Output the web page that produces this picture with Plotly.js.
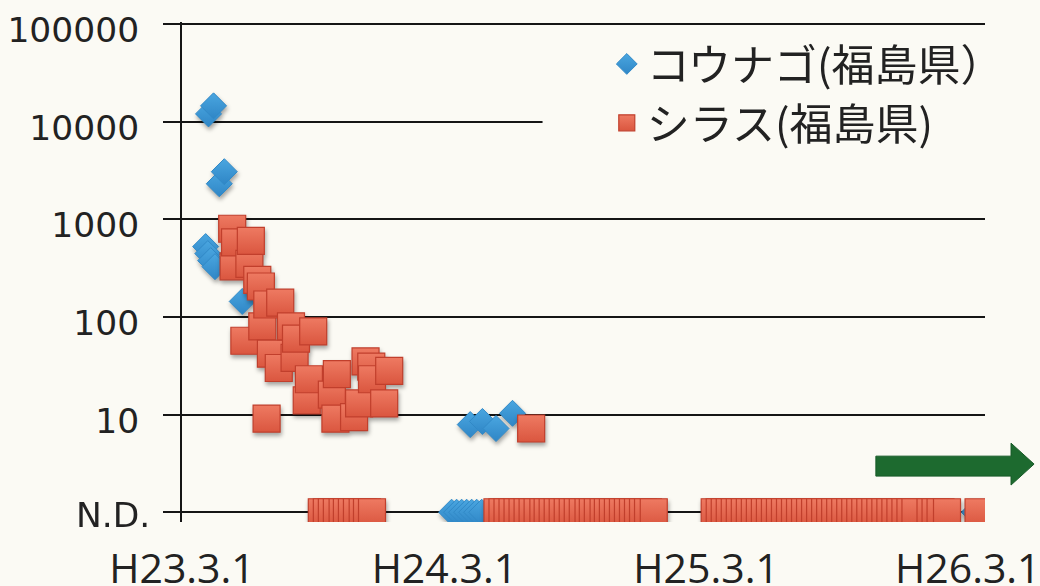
<!DOCTYPE html>
<html>
<head>
<meta charset="utf-8">
<script src="https://cdn.plot.ly/plotly-3.0.1.min.js"></script>
<style>
  html, body { margin: 0; padding: 0; background: #fbfaf4; }
  #chart { width: 1040px; height: 586px; }
</style>
</head>
<body>
<div id="chart"></div>
<script>
// Radiocaesium in fish caught off Fukushima (Bq/kg), log scale; N.D. drawn at 1.
const ND_LEVEL = 1;

// コウナゴ (sand lance) – detected results
const kounagoDates = [
  '2011-04-03', '2011-04-06', '2011-04-07', '2011-04-10', '2011-04-14',
  '2011-04-16', '2011-04-22', '2011-04-29', '2011-05-24',
  '2012-04-06', '2012-04-23', '2012-05-12', '2012-06-04'
];
const kounagoValues = [
  525, 445, 12000, 377, 14500,
  327, 2310, 3070, 144,
  7.9, 8.5, 7.2, 10.3
];
// コウナゴ – not detected
const kounagoNdDates = [
  '2012-03-11', '2012-03-18', '2012-03-25', '2012-04-01', '2012-04-08',
  '2012-04-15', '2012-04-22',
  '2013-03-20', '2013-04-10', '2013-05-08',
  '2014-03-10'
];

// シラス (whitebait) – detected results
const shirasuDates = [
  '2011-05-10', '2011-05-12', '2011-05-14', '2011-05-27', '2011-06-03',
  '2011-06-05', '2011-06-14', '2011-06-19', '2011-06-21', '2011-06-27',
  '2011-06-28', '2011-07-03', '2011-07-14', '2011-07-16', '2011-07-31',
  '2011-08-05', '2011-08-07', '2011-08-22', '2011-08-25', '2011-08-31',
  '2011-09-26', '2011-10-01', '2011-10-03', '2011-10-27', '2011-11-03',
  '2011-11-12', '2011-11-20', '2011-11-21', '2011-12-08', '2011-12-15',
  '2012-06-30'
];
const shirasuValues = [
  800, 330, 580, 57, 350,
  600, 240, 205, 80, 9.1,
  134, 42, 30, 140, 80,
  38, 60, 14, 23, 71,
  16, 9.1, 26, 9.4, 13,
  35, 31, 23, 13, 28,
  7.2
];
// シラス – not detected
const shirasuNdDates = [
  '2011-09-12', '2011-09-19', '2011-09-26', '2011-10-03', '2011-10-11',
  '2011-10-17', '2011-10-24', '2011-10-31', '2011-11-08', '2011-11-14',
  '2011-11-21',
  '2012-05-14', '2012-05-21', '2012-05-28', '2012-06-04', '2012-06-11',
  '2012-06-18', '2012-06-25', '2012-07-02', '2012-07-09', '2012-07-17',
  '2012-07-23', '2012-07-30', '2012-08-06', '2012-08-13', '2012-08-20',
  '2012-08-27', '2012-09-03', '2012-09-10', '2012-09-18', '2012-09-24',
  '2012-10-01', '2012-10-09', '2012-10-15', '2012-10-22', '2012-10-29',
  '2012-11-05', '2012-11-12', '2012-11-19', '2012-11-26', '2012-12-03',
  '2012-12-10', '2012-12-18',
  '2013-03-13', '2013-03-20', '2013-03-27', '2013-04-03', '2013-04-10',
  '2013-04-17', '2013-04-24', '2013-05-01', '2013-05-08', '2013-05-15',
  '2013-05-22', '2013-05-29', '2013-06-05', '2013-06-12', '2013-06-19',
  '2013-06-26', '2013-07-03', '2013-07-10', '2013-07-17', '2013-07-24',
  '2013-07-31', '2013-08-07', '2013-08-14', '2013-08-21', '2013-08-28',
  '2013-09-04', '2013-09-11', '2013-09-18', '2013-09-25', '2013-10-02',
  '2013-10-09', '2013-10-16', '2013-10-23', '2013-10-30', '2013-11-06',
  '2013-11-13', '2013-11-20', '2013-11-27', '2013-12-04', '2013-12-11',
  '2013-12-18', '2014-01-08', '2014-01-15', '2014-01-22', '2014-01-31',
  '2014-03-16'
];

const xTickVals = ['2011-03-01', '2012-03-01', '2013-03-01', '2014-03-01'];
const xTickText = ['H23.3.1', 'H24.3.1', 'H25.3.1', 'H26.3.1'];
const yTickVals = [1, 10, 100, 1000, 10000, 100000];
// the N.D. row is labelled separately (it sits a little further right)
const yTickText = ['', '10', '100', '1000', '10000', '100000'];
const ndLabel = 'N.D.';

const seriesNames = ['コウナゴ(福島県）', 'シラス(福島県)'];

const BG = '#fbfaf4';
const INK = '#151515';
const LABEL_FONT = { family: '"DejaVu Sans", sans-serif', size: 34.5, color: '#222' };

const kounago = {
  type: 'scatter', mode: 'markers', name: seriesNames[0],
  legendgroup: 'k',
  x: kounagoDates.concat(kounagoNdDates),
  y: kounagoValues.concat(kounagoNdDates.map(() => ND_LEVEL)),
  marker: {
    symbol: 'diamond', size: 20, color: '#4aa6e0',
    gradient: { type: 'vertical', color: '#2f86c6' },
    line: { color: '#3189c7', width: 1 }
  },
  hoverinfo: 'x+y'
};

const shirasu = {
  type: 'scatter', mode: 'markers', name: seriesNames[1],
  legendgroup: 's',
  x: shirasuDates.concat(shirasuNdDates),
  y: shirasuValues.concat(shirasuNdDates.map(() => ND_LEVEL)),
  marker: {
    symbol: 'square', size: 27, color: '#ee7a62',
    gradient: { type: 'vertical', color: '#da563f' },
    line: { color: '#c13f2c', width: 1.2 }
  },
  hoverinfo: 'x+y'
};

const layout = {
  width: 1040, height: 586,
  margin: { l: 182, r: 55, t: 22, b: 64 },
  paper_bgcolor: BG, plot_bgcolor: BG,
  font: { family: '"Open Sans", "Noto Sans CJK JP", sans-serif', color: '#222' },
  showlegend: true,
  legend: {
    x: 0.529, y: 0.985, xanchor: 'left', yanchor: 'top',
    bgcolor: 'rgba(0,0,0,0)', borderwidth: 0,
    traceorder: 'grouped', tracegroupgap: 0,
    font: { family: '"Noto Sans CJK JP", sans-serif', size: 43, color: '#222' }
  },
  xaxis: {
    type: 'date',
    range: ['2011-03-01', '2014-03-25'],
    tickmode: 'array', tickvals: xTickVals, ticktext: xTickText,
    showgrid: false, zeroline: false, showline: false,
    ticks: '', ticklabelstandoff: 19, ticklabeloverflow: 'allow',
    tickfont: { family: '"Open Sans", sans-serif', size: 41, color: '#222' }
  },
  yaxis: {
    type: 'log',
    range: [-0.1, 5.02],
    tickmode: 'array', tickvals: yTickVals, ticktext: yTickText,
    showgrid: true, gridcolor: INK, gridwidth: 2,
    showline: true, linecolor: INK, linewidth: 2,
    zeroline: false,
    ticks: 'outside', ticklen: 17, tickwidth: 2, tickcolor: INK,
    ticklabelstandoff: 17, ticklabelshift: 6, ticklabeloverflow: 'allow',
    tickfont: LABEL_FONT
  },
  annotations: [
    {
      text: ndLabel, xref: 'paper', yref: 'y',
      x: -0.037, y: Math.log10(ND_LEVEL),
      xanchor: 'right', yanchor: 'middle', yshift: -3,
      showarrow: false, font: LABEL_FONT
    }
  ],
  shapes: [
    // panel behind the legend, hiding the grid line there
    {
      type: 'rect', xref: 'paper', yref: 'paper', layer: 'above',
      x0: 0.449, x1: 1.006, y0: 0.697, y1: 0.98,
      fillcolor: BG, line: { width: 0 }
    },
    // green arrow pointing onwards
    {
      type: 'path', xref: 'paper', yref: 'paper', layer: 'above',
      path: 'M 0.8641 0.1317 L 1.0324 0.1317 L 1.0324 0.1577 L 1.0611 0.1158 ' +
            'L 1.0324 0.0739 L 1.0324 0.0918 L 0.8641 0.0918 Z',
      fillcolor: '#1d6a2f', line: { color: '#175a27', width: 1 }
    }
  ]
};

Plotly.newPlot('chart', [kounago, shirasu], layout, { displayModeBar: false, staticPlot: true })
  .then(() => {
    document.querySelectorAll('.scatterlayer .trace').forEach(el => {
      el.style.filter = 'drop-shadow(1px 3px 2px rgba(0,0,0,0.35))';
    });
  });
</script>
</body>
</html>
